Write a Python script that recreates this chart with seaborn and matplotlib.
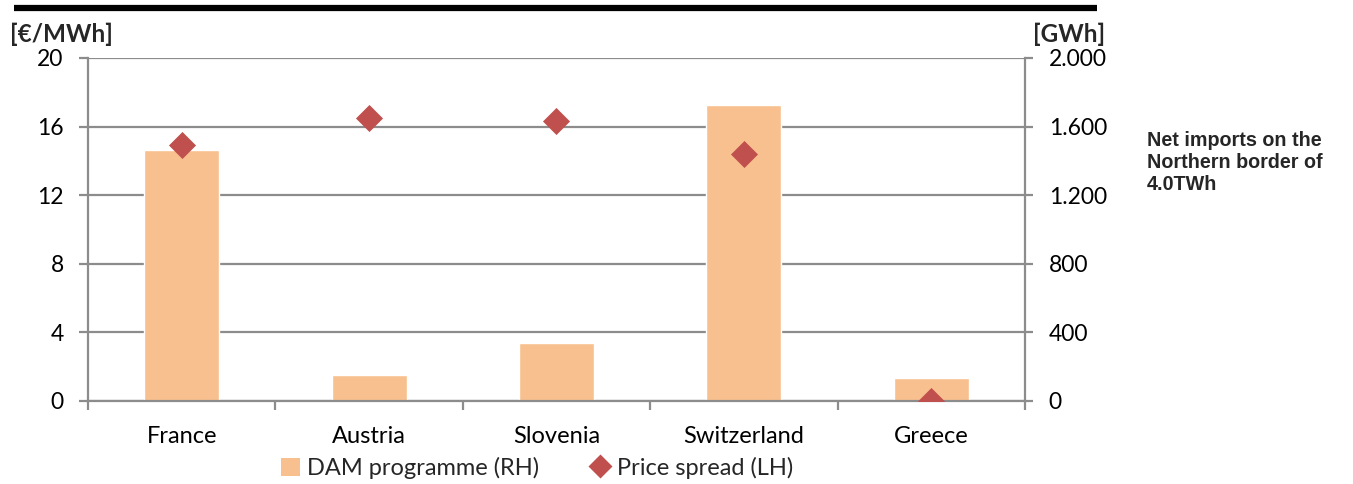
import matplotlib
matplotlib.use("Agg")
import matplotlib.pyplot as plt
from matplotlib.lines import Line2D
from matplotlib.patches import Patch
from matplotlib.ticker import FuncFormatter, FixedLocator
import seaborn as sns
import pandas as pd

# Data
countries = ["France", "Austria", "Slovenia", "Switzerland", "Greece"]
dam_programme_gwh = [1465, 152, 336, 1726, 132]
price_spread_eur = [14.9, 16.5, 16.3, 14.4, 0.0]

df = pd.DataFrame({
    "country": countries,
    "dam": dam_programme_gwh,
    "spread": price_spread_eur,
})

sns.set_theme(style="white")
plt.rcParams["font.family"] = ["Lato", "DejaVu Sans"]

bar_color = "#F9C08F"
diamond_color = "#C0504D"
grid_color = "#8C8C8C"

fig = plt.figure(figsize=(13.53, 4.84), dpi=100)
ax = fig.add_axes([0.065, 0.1715, 0.6926, 0.7087])
ax2 = ax.twinx()

# Bars on the right (GWh) axis, drawn underneath
sns.barplot(data=df, x="country", y="dam", color=bar_color, width=0.4,
            saturation=1, ax=ax2, zorder=2)
ax2.set_ylim(0, 2000)
ax2.set_yticks([0, 400, 800, 1200, 1600, 2000])
ax2.yaxis.set_major_formatter(FuncFormatter(lambda v, p: f"{int(v):,}".replace(",", ".")))
ax2.yaxis.grid(True, color=grid_color, linewidth=1.6)
ax2.set_axisbelow(True)
ax2.set_ylabel("")
ax2.set_xlabel("")

# Diamonds on the left (EUR/MWh) axis, drawn on top
sns.scatterplot(data=df, x="country", y="spread", marker="D", s=190,
                color=diamond_color, linewidth=0, ax=ax, zorder=5)
ax.set_zorder(ax2.get_zorder() + 1)
ax.patch.set_visible(False)
ax.set_ylim(0, 20)
ax.set_yticks([0, 4, 8, 12, 16, 20])
ax.set_xlim(-0.5, 4.5)
ax.set_ylabel("")
ax.set_xlabel("")

for a in (ax, ax2):
    for side in ("top", "left", "right", "bottom"):
        a.spines[side].set_visible(False)

ax2.spines["right"].set_visible(True)
ax2.spines["right"].set_color(grid_color)
ax2.spines["right"].set_linewidth(1.6)
ax.spines["left"].set_visible(True)
ax.spines["left"].set_color(grid_color)
ax.spines["left"].set_linewidth(1.6)
ax.spines["bottom"].set_visible(True)
ax.spines["bottom"].set_color(grid_color)
ax.spines["bottom"].set_linewidth(1.6)

tick_font = 16.5
ax.tick_params(axis="y", which="major", direction="out", length=6.5, width=1.6,
               color=grid_color, labelsize=tick_font, pad=11, left=True)
ax2.tick_params(axis="y", which="major", direction="out", length=6, width=1.6,
                color=grid_color, labelsize=tick_font, pad=11, right=True)
ax2.tick_params(axis="x", bottom=False, labelbottom=False)

# Category labels with separator ticks between categories
ax.tick_params(axis="x", which="major", length=0, labelsize=17, pad=18)
ax.xaxis.set_minor_locator(FixedLocator([-0.5, 0.5, 1.5, 2.5, 3.5, 4.5]))
ax.tick_params(axis="x", which="minor", direction="out", length=6.5, width=1.6,
               color=grid_color, bottom=True)
for lbl in ax.get_yticklabels() + ax2.get_yticklabels() + ax.get_xticklabels():
    lbl.set_color("black")

# Unit labels
fig.text(0.0075, 0.905, "[€/MWh]", fontsize=17.5, fontweight="bold", ha="left", va="bottom")
fig.text(0.7635, 0.905, "[GWh]", fontsize=17.5, fontweight="bold", ha="left", va="bottom")

# Side note
fig.text(0.8475, 0.73, "Net imports on the\nNorthern border of\n4.0TWh",
         fontsize=14.2, fontweight="bold", family=["Liberation Sans", "DejaVu Sans"],
         ha="left", va="top", linespacing=1.2)

# Heavy rule across the top
fig.add_artist(Line2D([0.0105, 0.811], [0.983, 0.983], color="black",
                      linewidth=4.5, transform=fig.transFigure, solid_capstyle="butt"))

# Legend
handles = [
    Patch(facecolor=bar_color, edgecolor="none", label="DAM programme (RH)"),
    Line2D([0], [0], marker="D", linestyle="none", markerfacecolor=diamond_color,
           markeredgecolor="none", markersize=12, label="Price spread (LH)"),
]
fig.legend(handles=handles, loc="center", bbox_to_anchor=(0.397, 0.033), ncol=2,
           frameon=False, fontsize=17, handlelength=0.8, handleheight=0.8,
           handletextpad=0.3, columnspacing=2.2, borderpad=0)

fig.savefig("out.png", dpi=100)
